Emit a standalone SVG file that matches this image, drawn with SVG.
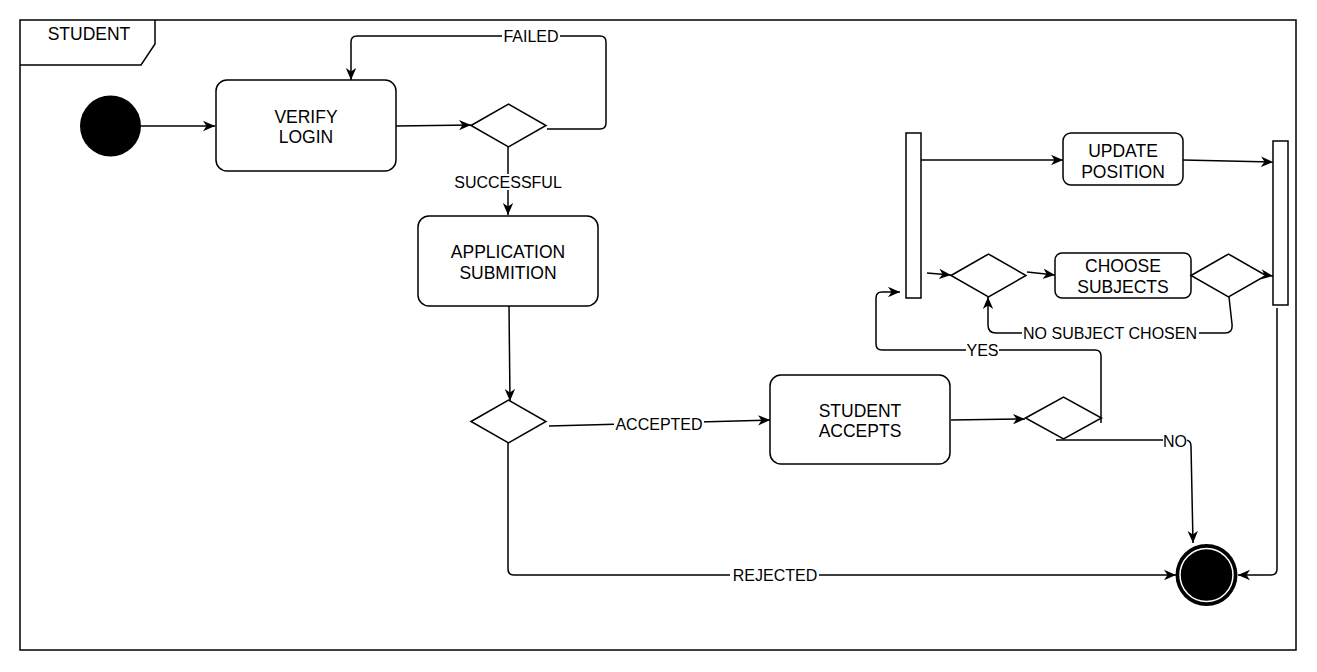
<svg xmlns="http://www.w3.org/2000/svg" width="1317" height="672" viewBox="0 0 1317 672">
<style>
.ln{fill:none;stroke:#000;stroke-width:1.5}
.box{fill:#fff;stroke:#000;stroke-width:1.5}
.nt{font-family:"Liberation Sans",Arial,sans-serif;font-size:17.5px;fill:#000;text-anchor:middle}
.lt{font-family:"Liberation Sans",Arial,sans-serif;font-size:16px;fill:#000;text-anchor:middle}
.bg{fill:#fff;stroke:none}
</style>
<defs>
<marker id="arr" viewBox="0 0 12 12" refX="12" refY="6" markerWidth="12" markerHeight="12" markerUnits="userSpaceOnUse" orient="auto">
<path d="M0,0.8 L12,6 L0,11.2 L3.5,6 Z" fill="#000"/>
</marker>
</defs>
<rect width="1317" height="672" fill="#fff"/>
<g id="frame">
<rect x="20" y="20" width="1276" height="630" class="ln"/>
<path d="M20,65 H141 L155,44 V20" class="ln"/>
<text x="89" y="40" class="nt">STUDENT</text>
</g>
<g id="connectors">
<path d="M141,126 H215" class="ln" marker-end="url(#arr)"/>
<path d="M396,126 L471,125" class="ln" marker-end="url(#arr)"/>
<path d="M547,129 H600 Q606,129 606,123 V42 Q606,36 600,36 H357 Q351,36 351,42 V80" class="ln" marker-end="url(#arr)"/>
<path d="M508,147 V215" class="ln" marker-end="url(#arr)"/>
<path d="M509,306 L510,401" class="ln" marker-end="url(#arr)"/>
<path d="M549,426 L770,420" class="ln" marker-end="url(#arr)"/>
<path d="M508,443 V569 Q508,575 514,575 H1176" class="ln" marker-end="url(#arr)"/>
<path d="M951,420 L1025,419" class="ln" marker-end="url(#arr)"/>
<path d="M1101,423 V356 Q1101,350 1095,350 H882 Q876,350 876,344 V298 Q876,292 882,292 H900" class="ln" marker-end="url(#arr)"/>
<path d="M1056,440 H1185 Q1191,440 1191,446 L1193,543" class="ln" marker-end="url(#arr)"/>
<path d="M921,160 H1063" class="ln" marker-end="url(#arr)"/>
<path d="M1183,160 L1273,162" class="ln" marker-end="url(#arr)"/>
<path d="M927,273 L951,275" class="ln" marker-end="url(#arr)"/>
<path d="M1027,272 L1055,275" class="ln" marker-end="url(#arr)"/>
<path d="M1258,274 L1273,276" class="ln" marker-end="url(#arr)"/>
<path d="M1229,297 L1232,324 Q1233,333 1225,333 H996 Q988,333 988,325 V297" class="ln" marker-end="url(#arr)"/>
<path d="M1277,308 V569 Q1277,575 1271,575 H1238" class="ln" marker-end="url(#arr)"/>
<rect x="502" y="28" width="58" height="16" class="bg"/>
<text x="531" y="42" class="lt">FAILED</text>
<rect x="452" y="174" width="112" height="16" class="bg"/>
<text x="508" y="188" class="lt">SUCCESSFUL</text>
<rect x="614" y="416" width="90" height="16" class="bg"/>
<text x="659" y="430" class="lt">ACCEPTED</text>
<rect x="730" y="567" width="89" height="16" class="bg"/>
<text x="775" y="581" class="lt">REJECTED</text>
<rect x="966" y="342" width="33" height="16" class="bg"/>
<text x="982.5" y="356" class="lt">YES</text>
<rect x="1022" y="325" width="177" height="16" class="bg"/>
<text x="1110" y="339" class="lt">NO SUBJECT CHOSEN</text>
<rect x="1163" y="433" width="24" height="16" class="bg"/>
<text x="1175" y="447" class="lt">NO</text>
</g>
<g id="start"><circle cx="110.5" cy="126" r="30.5" fill="#000"/></g>
<g id="verify-login">
<rect x="216" y="80" width="180" height="91" rx="11" class="box"/>
<text x="306" y="123" class="nt">VERIFY</text>
<text x="306" y="143" class="nt">LOGIN</text>
</g>
<g id="decision-login"><path d="M471,125.5 L508.5,104 L546,125.5 L508.5,147 Z" class="box"/></g>
<g id="application-submition">
<rect x="418" y="216" width="180" height="90" rx="11" class="box"/>
<text x="508" y="258" class="nt">APPLICATION</text>
<text x="508" y="279" class="nt">SUBMITION</text>
</g>
<g id="decision-application"><path d="M471,421.5 L508.5,400 L546,421.5 L508.5,443 Z" class="box"/></g>
<g id="student-accepts">
<rect x="770" y="375" width="180" height="89" rx="11" class="box"/>
<text x="860" y="417" class="nt">STUDENT</text>
<text x="860" y="437" class="nt">ACCEPTS</text>
</g>
<g id="decision-accept"><path d="M1025.5,418 L1063.5,397 L1101.5,418 L1063.5,439 Z" class="box"/></g>
<g id="fork"><rect x="906" y="133" width="15" height="165" class="box"/></g>
<g id="update-position">
<rect x="1063" y="133" width="120" height="52" rx="8" class="box"/>
<text x="1123" y="157" class="nt">UPDATE</text>
<text x="1123" y="178" class="nt">POSITION</text>
</g>
<g id="decision-subject-in"><path d="M951,275.5 L988.5,254 L1026,275.5 L988.5,297 Z" class="box"/></g>
<g id="choose-subjects">
<rect x="1055" y="253" width="136" height="45" rx="7" class="box"/>
<text x="1123" y="272" class="nt">CHOOSE</text>
<text x="1123" y="293" class="nt">SUBJECTS</text>
</g>
<g id="decision-subject-out"><path d="M1191,275.5 L1228.5,254 L1266,275.5 L1228.5,297 Z" class="box"/></g>
<g id="join"><rect x="1273" y="141" width="15" height="164" class="box"/></g>
<g id="end">
<circle cx="1206.5" cy="575" r="31" fill="#000"/>
<circle cx="1206.5" cy="575" r="26.5" fill="#000" stroke="#fff" stroke-width="1.5"/>
</g>
</svg>
